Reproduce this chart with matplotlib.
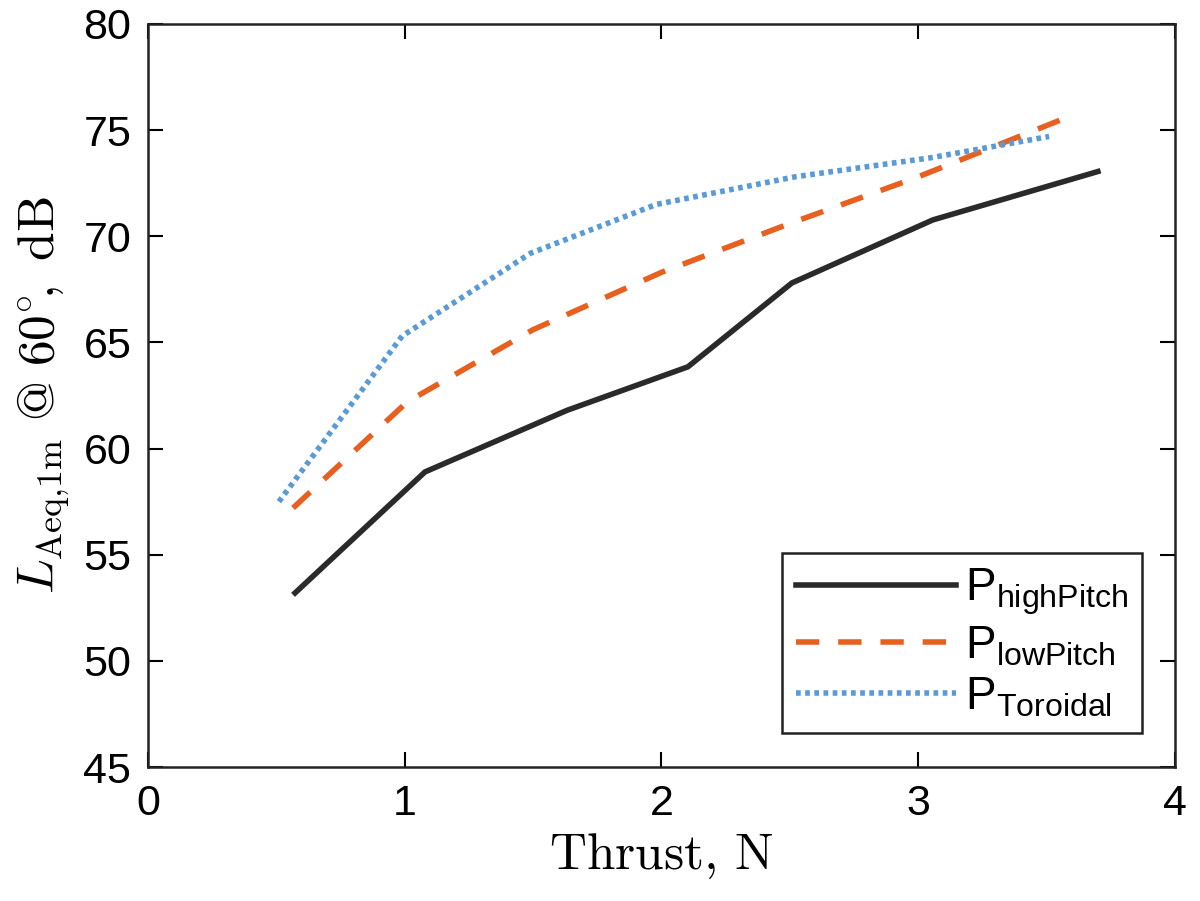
import numpy as np
import matplotlib
matplotlib.use("Agg")
import matplotlib.pyplot as plt

plt.rcParams['font.family'] = ['Liberation Sans', 'DejaVu Sans']
plt.rcParams['mathtext.fontset'] = 'custom'
plt.rcParams['mathtext.rm'] = 'Liberation Sans'
plt.rcParams['mathtext.it'] = 'Liberation Sans:italic'

# thrust (N) and level (dB)
x_high = [0.573, 1.079, 1.632, 2.103, 2.508, 3.057, 3.70]
y_high = [53.2, 58.9, 61.8, 63.85, 67.8, 70.77, 73.05]

x_low = [0.565, 1.01, 1.5, 2.0, 2.5, 3.0, 3.58]
y_low = [57.2, 62.2, 65.6, 68.3, 70.6, 72.8, 75.6]

x_tor = [0.51, 0.99, 1.49, 1.98, 2.52, 3.05, 3.51]
y_tor = [57.5, 65.3, 69.2, 71.5, 72.8, 73.7, 74.7]

labels = [r'P$_{\mathrm{highPitch}}$', r'P$_{\mathrm{lowPitch}}$', r'P$_{\mathrm{Toroidal}}$']

fig = plt.figure(figsize=(12, 9.01), dpi=100)
ax = fig.add_axes([0.1233, 0.1487, 0.8558, 0.8247])

ax.plot(x_high, y_high, color='#2a2a2a', lw=4, ls='-', label=labels[0])
ax.plot(x_low, y_low, color='#e8601f', lw=4, ls=(0, (4.2, 3.4)), label=labels[1])
ax.plot(x_tor, y_tor, color='#5b9bd5', lw=4, ls=(0, (0.85, 0.8)), label=labels[2])

ax.set_xlim(0, 4)
ax.set_ylim(45, 80)
ax.set_xticks([0, 1, 2, 3, 4])
ax.set_yticks(np.arange(45, 81, 5))
ax.tick_params(direction='in', length=11, width=1.5, top=True, right=True,
               labelsize=31, pad=12)
for s in ax.spines.values():
    s.set_linewidth(1.8)
    s.set_color('#222222')

ax.set_xlabel(r'$\mathrm{Thrust,\,N}$', fontsize=37, math_fontfamily='cm', labelpad=6)
ax.set_ylabel(r'$L_{\mathrm{Aeq{,}1m}}\ \mathrm{@}\ 60^{\circ}\!,\ \mathrm{dB}$', fontsize=37,
              math_fontfamily='cm', labelpad=8)

leg = ax.legend(loc='lower right', fontsize=33, handlelength=3.5, handletextpad=0.2,
                labelspacing=0.15, borderpad=0.3, borderaxespad=0, fancybox=False,
                framealpha=1, edgecolor='#222222', bbox_to_anchor=(0.968, 0.046))
leg.get_frame().set_linewidth(1.8)

fig.savefig('out.png', dpi=100)
